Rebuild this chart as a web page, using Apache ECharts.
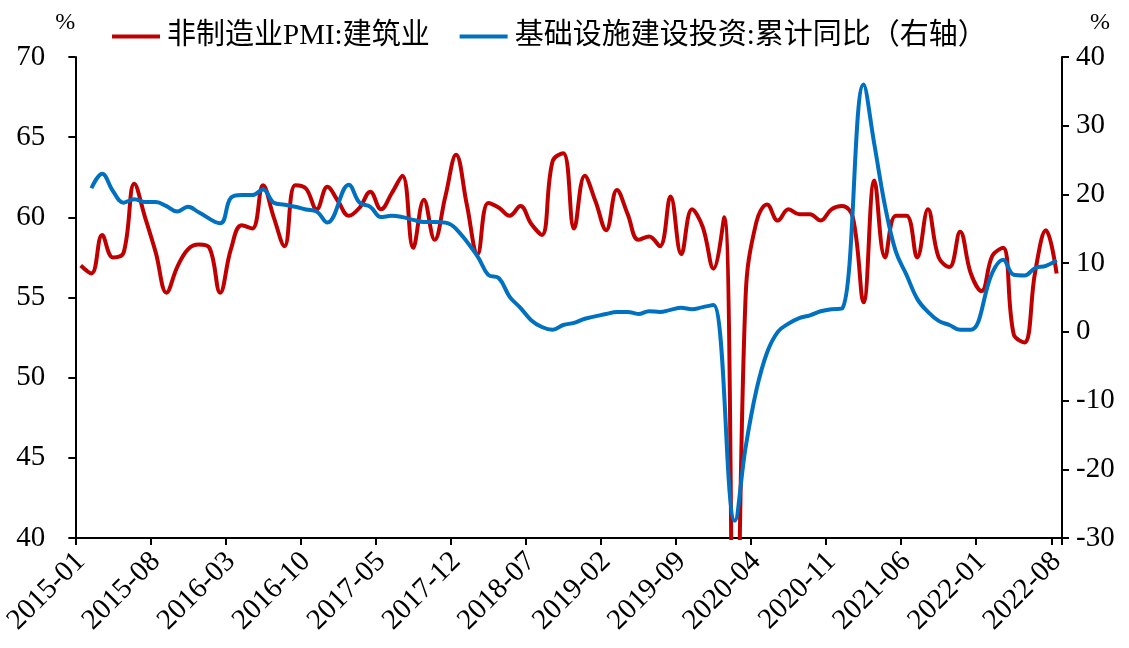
<!DOCTYPE html>
<html>
<head>
<meta charset="utf-8">
<script src="https://cdn.jsdelivr.net/npm/echarts@6/dist/echarts.min.js"></script>
<style>
  html, body { margin: 0; padding: 0; background: #fff; }
  #chart { width: 1129px; height: 648px; }
</style>
</head>
<body>
<div id="chart"></div>
<script>
// monthly categories 2015-01 .. 2022-08
const months = [];
for (let y = 2015; y <= 2022; y++) {
  for (let m = 1; m <= 12; m++) {
    if (y === 2022 && m > 8) break;
    months.push(y + '-' + String(m).padStart(2, '0'));
  }
}

// 非制造业PMI:建筑业 (left axis)
const pmiBuild = [
  57.0, 56.5, 58.9, 57.5, 57.8, 62.1, 60.0, 57.8, 55.3, 56.9, 58.0, 58.3,
  58.1, 55.3, 58.0, 59.5, 59.3, 62.0, 60.0, 58.2, 62.0, 61.8, 60.5, 61.9,
  61.0, 60.1, 60.6, 61.6, 60.5, 61.5, 62.6, 58.1, 61.1, 58.6, 61.3, 63.9,
  60.8, 57.7, 60.9, 60.6, 60.1, 60.7, 59.6, 58.9, 63.5, 64.0, 59.3, 62.6,
  61.0, 59.2, 61.7, 60.2, 58.6, 58.8, 58.2, 61.3, 57.7, 60.5, 59.4, 56.8,
  60.0, 26.6, 55.1, 59.7, 60.8, 59.8, 60.5, 60.2, 60.2, 59.8, 60.5, 60.7,
  60.0, 54.7, 62.3, 57.5, 60.1, 60.1, 57.5, 60.5, 57.5, 56.9, 59.1, 56.5,
  55.4, 57.6, 58.1, 52.7, 52.2, 56.6, 59.2, 56.5
];

// 基础设施建设投资:累计同比 (right axis), no January figure
const infraYoy = [
  null, 20.9, 23.0, 20.5, 18.8, 19.3, 18.9, 18.9, 18.3, 17.5, 18.2, 17.4,
  null, 15.8, 19.5, 19.9, 19.9, 20.7, 18.8, 18.5, 18.2, 17.8, 17.5, 15.9,
  null, 21.4, 18.8, 18.2, 16.7, 16.9, 16.7, 16.3, 16.0, 16.0, 15.9, 15.0,
  null, 11.0, 8.3, 7.8, 5.1, 3.5, 1.7, 0.7, 0.3, 1.0, 1.3, 1.9,
  null, 2.6, 2.9, 2.9, 2.6, 3.0, 2.9, 3.2, 3.5, 3.3, 3.6, 3.9,
  null, -27.5, -16.8, -8.5, -3.0, 0.0, 1.2, 2.0, 2.4, 3.0, 3.3, 3.4,
  null, 36.0, 27.3, 18.3, 11.7, 8.3, 4.8, 2.9, 1.6, 1.0, 0.3, 0.3,
  null, 8.6, 10.5, 8.3, 8.2, 9.3, 9.6, 10.4
];

const leftTicks = { min: 40, max: 70, interval: 5 };
const rightTicks = { min: -30, max: 40, interval: 10 };

const FONT = '"Times New Roman", "Liberation Serif", "Noto Sans CJK SC", serif';
const axisLine = { show: true, onZero: false, lineStyle: { color: '#000', width: 2 } };

const chart = echarts.init(document.getElementById('chart'));
chart.setOption({
  animation: false,
  textStyle: { fontFamily: FONT, color: '#000' },
  legend: {
    left: 107,
    top: 17,
    itemWidth: 48,
    itemHeight: 4,
    itemGap: 30,
    icon: 'rect',
    textStyle: { fontSize: 29, fontFamily: FONT, color: '#000', padding: [0, 0, 0, 2] },
    data: ['非制造业PMI:建筑业', '基础设施建设投资:累计同比（右轴）']
  },
  grid: { left: 75, right: 67, top: 57, bottom: 110 },
  xAxis: {
    type: 'category',
    data: months,
    boundaryGap: true,
    axisLine: axisLine,
    axisTick: { show: true, interval: 6, length: 7, lineStyle: { color: '#000', width: 2 } },
    axisLabel: {
      interval: 6,
      rotate: 45,
      fontSize: 29,
      color: '#000',
      fontFamily: FONT,
      margin: 19
    },
    splitLine: { show: false }
  },
  yAxis: [
    {
      type: 'value',
      min: leftTicks.min,
      max: leftTicks.max,
      interval: leftTicks.interval,
      name: '%',
      nameGap: 22,
      nameTextStyle: { fontSize: 24, color: '#000', fontFamily: FONT, align: 'right', padding: [0, 0, 0, 0] },
      axisLine: axisLine,
      axisTick: { show: true, length: 7, lineStyle: { color: '#000', width: 2 } },
      axisLabel: { fontSize: 29, color: '#000', fontFamily: FONT, margin: 30 },
      splitLine: { show: false }
    },
    {
      type: 'value',
      min: rightTicks.min,
      max: rightTicks.max,
      interval: rightTicks.interval,
      name: '%',
      nameGap: 22,
      nameTextStyle: { fontSize: 24, color: '#000', fontFamily: FONT, align: 'left', padding: [0, 0, 0, 28] },
      axisLine: axisLine,
      axisTick: { show: true, length: 7, lineStyle: { color: '#000', width: 2 } },
      axisLabel: { fontSize: 29, color: '#000', fontFamily: FONT, margin: 14 },
      splitLine: { show: false }
    }
  ],
  series: [
    {
      name: '非制造业PMI:建筑业',
      type: 'line',
      yAxisIndex: 0,
      data: pmiBuild,
      smooth: 0.4,
      showSymbol: false,
      clip: true,
      itemStyle: { color: '#C00000' },
      lineStyle: { color: '#C00000', width: 4 },
      z: 2
    },
    {
      name: '基础设施建设投资:累计同比（右轴）',
      type: 'line',
      yAxisIndex: 1,
      data: infraYoy,
      smooth: 0.4,
      connectNulls: true,
      showSymbol: false,
      clip: true,
      itemStyle: { color: '#0070C0' },
      lineStyle: { color: '#0070C0', width: 4 },
      z: 3
    }
  ]
});
</script>
</body>
</html>
